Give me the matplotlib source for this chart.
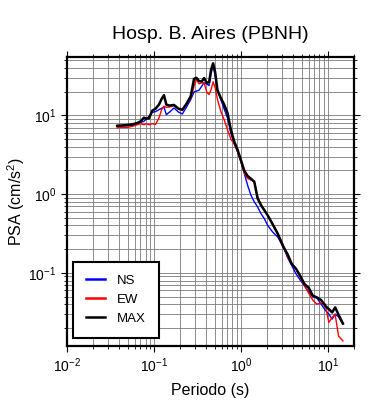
import matplotlib
matplotlib.use("Agg")
import matplotlib.pyplot as plt
from matplotlib.ticker import LogLocator, NullFormatter

plt.rcParams['font.family'] = ['Liberation Sans', 'DejaVu Sans']
plt.rcParams['mathtext.fontset'] = 'custom'
plt.rcParams['mathtext.rm'] = 'Liberation Sans'
plt.rcParams['mathtext.it'] = 'Liberation Sans:italic'
plt.rcParams['mathtext.bf'] = 'Liberation Sans:bold'

title = "Hosp. B. Aires (PBNH)"
xlabel = "Periodo (s)"
ylabel = "PSA (cm/s$^2$)"

period = [0.0378, 0.0431, 0.0492, 0.0562, 0.0642, 0.0702, 0.0767, 0.0816, 0.0876, 0.0957,
          0.1045, 0.1142, 0.1226, 0.1304, 0.1388, 0.1516, 0.1701, 0.1909, 0.2123, 0.2361,
          0.2649, 0.2893, 0.3080, 0.3305, 0.3548, 0.3775, 0.4053, 0.4311, 0.4546, 0.4795,
          0.5056, 0.5380, 0.5877, 0.6421, 0.7016, 0.7666, 0.8377, 0.9154, 1.000, 1.093,
          1.194, 1.304, 1.425, 1.557, 1.701, 1.859, 2.031, 2.320, 2.649, 3.025,
          3.456, 3.842, 4.312, 4.795, 5.380, 6.037, 6.713, 7.466, 8.377, 9.317,
          10.27, 11.22, 12.15, 13.28, 14.90]

psa_max = [7.38, 7.45, 7.53, 7.68, 7.98, 8.38, 9.34, 9.07, 9.15, 11.47,
           12.16, 13.68, 16.16, 18.00, 13.68, 13.29, 13.55, 12.16, 11.81, 13.95,
           17.48, 29.09, 29.97, 27.17, 26.91, 29.68, 25.86, 26.38, 38.28, 45.66,
           35.39, 20.85, 16.64, 13.68, 10.71, 6.56, 4.66, 3.65, 2.72, 1.99,
           1.70, 1.57, 1.44, 0.881, 0.724, 0.625, 0.539, 0.414, 0.315, 0.223,
           0.171, 0.130, 0.1125, 0.0925, 0.0724, 0.0644, 0.0514, 0.0489, 0.0452, 0.0383,
           0.0347, 0.0315, 0.0365, 0.0294, 0.0228]

psa_ns = [7.24, 7.31, 7.38, 7.45, 7.83, 8.14, 8.38, 8.98, 9.71, 10.92,
          11.14, 11.81, 12.28, 12.78, 10.20, 11.03, 12.40, 11.03, 10.40, 12.65,
          15.85, 19.86, 20.25, 20.85, 23.46, 25.86, 24.87, 23.91, 34.03, 43.06,
          32.10, 20.25, 15.85, 12.05, 9.25, 5.95, 4.35, 3.47, 2.59, 1.84,
          1.30, 0.971, 0.798, 0.689, 0.566, 0.489, 0.402, 0.330, 0.285, 0.223,
          0.155, 0.124, 0.0971, 0.0814, 0.0689, 0.0566, 0.0499, 0.0480, 0.0402, 0.0337,
          0.0300, 0.0259, 0.0300, 0.0277, 0.0223]

psa_ew = [6.96, 7.03, 7.03, 7.24, 7.60, 7.83, 7.60, 7.83, 7.60, 7.83,
          7.68, 9.25, 11.81, 13.03, 12.65, 12.78, 13.29, 12.05, 11.47, 13.68,
          16.64, 23.46, 28.53, 25.12, 25.86, 25.86, 19.66, 18.35, 21.27, 26.64,
          22.34, 15.85, 11.25, 8.80, 6.56, 4.99, 4.35, 3.47, 2.59, 1.84,
          1.585, 1.51, 1.44, 0.925, 0.745, 0.637, 0.539, 0.422, 0.321, 0.235,
          0.158, 0.130, 0.1125, 0.0881, 0.0689, 0.0550, 0.0452, 0.0402, 0.0410, 0.0402,
          0.0235, 0.0272, 0.0294, 0.0158, 0.0137]

fig = plt.figure(figsize=(3.9, 4.0), dpi=100)
ax = fig.add_axes([67/390, 1-346/400, (354-67)/390, (346-57)/400])

ax.plot(period, psa_ns, color='#0000ff', lw=1.0, label='NS', zorder=3)
ax.plot(period, psa_ew, color='#ff0000', lw=1.0, label='EW', zorder=4)
ax.plot(period, psa_max, color='black', lw=1.8, label='MAX', zorder=5)

ax.set_xscale('log')
ax.set_yscale('log')
ax.set_xlim(0.01, 20)
ax.set_ylim(0.0118, 55)

ax.xaxis.set_major_locator(LogLocator(base=10, numticks=10))
ax.xaxis.set_minor_locator(LogLocator(base=10, subs=range(2, 10), numticks=20))
ax.yaxis.set_major_locator(LogLocator(base=10, numticks=10))
ax.yaxis.set_minor_locator(LogLocator(base=10, subs=range(2, 10), numticks=20))
ax.xaxis.set_minor_formatter(NullFormatter())
ax.yaxis.set_minor_formatter(NullFormatter())

ax.grid(True, which='both', color='#7a7a7a', lw=0.6)
ax.set_axisbelow(True)

for s in ax.spines.values():
    s.set_linewidth(1.6)

ax.tick_params(which='both', direction='out', top=True, right=True, color='black')
ax.tick_params(which='major', length=4, width=0.8, labelsize=10)
ax.tick_params(which='minor', length=2.5, width=0.6)

ax.set_title(title, fontsize=14, pad=13)
ax.set_xlabel(xlabel, fontsize=11.5, labelpad=6)
ax.set_ylabel(ylabel, fontsize=11.5, labelpad=1)

leg = ax.legend(loc='lower left', bbox_to_anchor=(0.021, 0.028), borderaxespad=0,
                fancybox=False, edgecolor='black', framealpha=1, fontsize=9.5,
                handlelength=1.4, handletextpad=0.9, labelspacing=0.5,
                borderpad=1.0)
leg.get_frame().set_linewidth(1.5)
for line in leg.get_lines():
    line.set_linewidth(1.8)

fig.savefig('out.png', dpi=100)
